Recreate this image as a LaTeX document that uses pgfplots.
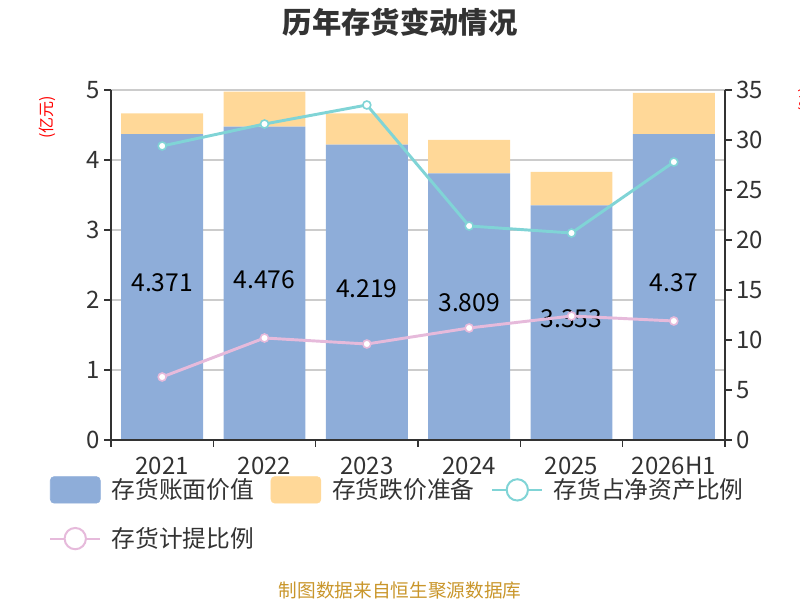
\documentclass[border=0pt]{standalone}
\usepackage{fontspec}
\setmainfont{Noto Sans CJK SC}
\usepackage{pgfplots}
\usepackage{pgfplotstable}
\pgfplotsset{compat=1.18}
\definecolor{cblue}{HTML}{8EADD9}
\definecolor{corange}{HTML}{FFD898}
\definecolor{ccyan}{HTML}{80D4D6}
\definecolor{cpink}{HTML}{E6BADB}
\definecolor{caxis}{HTML}{333333}
\definecolor{cgrid}{HTML}{CCCCCC}
\definecolor{cfoot}{HTML}{C9962B}

\pgfplotstableread{
x blue res cyan pink lbl
0 4.371 0.296 29.4 6.3 4.371
1 4.476 0.500 31.6 10.2 4.476
2 4.219 0.448 33.5 9.6 4.219
3 3.809 0.477 21.4 11.2 3.809
4 3.353 0.476 20.7 12.4 3.353
5 4.370 0.590 27.8 11.9 4.37
}\data

\pgfplotsset{
  base/.style={
    at={(83.25pt,120pt)}, anchor=south west, scale only axis,
    width=460.5pt, height=262.5pt,
    xmin=-0.5, xmax=5.5,
    /pgf/number format/assume math mode=true,
    tick label style={font=\fontsize{18}{21}\selectfont, text=caxis},
    axis line style={caxis, line width=1.2pt, -},
    tick style={caxis, line width=1.2pt},
    tick align=outside, major tick length=5pt,
  }
}

\begin{document}
\begin{tikzpicture}
\path[use as bounding box] (0,0) rectangle (600pt,450pt);

\begin{axis}[base,
  ymin=0, ymax=5,
  ybar stacked, bar width=0.8,
  axis y line*=left, axis x line*=bottom,
  xtick={0,...,5}, xticklabels={2021,2022,2023,2024,2025,2026H1},
  xtick style={draw=none},
  xticklabel style={yshift=-4pt},
  ytick={0,...,5}, ymajorgrids,
  grid style={cgrid, line width=0.8pt},
]
\addplot[fill=cblue, draw=none] table[x=x, y=blue]{\data};
\addplot[fill=corange, draw=none] table[x=x, y=res]{\data};
\end{axis}

\begin{axis}[base, hide axis, ymin=0, ymax=5]
\addplot[draw=none, mark=none, nodes near coords, point meta=explicit symbolic,
  every node near coord/.append style={anchor=center, yshift=3pt, text=black,
  font=\fontsize{18.5}{21}\selectfont}]
  table[x=x, y expr=\thisrow{blue}/2, meta=lbl]{\data};
\end{axis}

\begin{axis}[base,
  ymin=0, ymax=35, ytick={0,5,...,35},
  axis y line*=right, axis x line*=bottom,
  xtick={-0.5,0.5,...,5.5}, xticklabels={},
  legend columns=3,
  legend style={at={(-0.1075,-0.095)}, anchor=north west, draw=none, fill=none,
    font=\fontsize{17.8}{21}\selectfont, text=caxis,
    /tikz/every even column/.append style={column sep=10.5pt},
    /tikz/row sep=16pt},
]
\addlegendimage{legend image code/.code={\fill[cblue, rounded corners=3pt] (0pt,-10pt) rectangle (37.5pt,10pt); \path[draw=none, fill=none] (0pt,0pt) -- (44pt,0pt);}}
\addlegendentry{存货账面价值}
\addlegendimage{legend image code/.code={\fill[corange, rounded corners=3pt] (0pt,-10pt) rectangle (37.5pt,10pt); \path[draw=none, fill=none] (0pt,0pt) -- (44pt,0pt);}}
\addlegendentry{存货跌价准备}
\addplot[ccyan, line width=2.2pt, mark=*, mark size=3pt,
  mark options={fill=white, draw=ccyan, line width=1.2pt},
  legend image code/.code={\draw[ccyan, line width=1.5pt] (0pt,0pt) -- (37.5pt,0pt);
    \draw[ccyan, line width=1.5pt, fill=white] (18.75pt,0pt) circle (8pt); \path[draw=none, fill=none] (0pt,0pt) -- (44pt,0pt);}]
  table[x=x, y=cyan]{\data};
\addlegendentry{存货占净资产比例}
\addplot[cpink, line width=2.2pt, mark=*, mark size=3pt,
  mark options={fill=white, draw=cpink, line width=1.2pt},
  legend image code/.code={\draw[cpink, line width=1.5pt] (0pt,0pt) -- (37.5pt,0pt);
    \draw[cpink, line width=1.5pt, fill=white] (18.75pt,0pt) circle (8pt); \path[draw=none, fill=none] (0pt,0pt) -- (44pt,0pt);}]
  table[x=x, y=pink]{\data};
\addlegendentry{存货计提比例}
\end{axis}

\node[font=\fontsize{22}{26}\selectfont\bfseries, text=caxis] at (300pt,433pt) {历年存货变动情况};
\node[font=\fontsize{14}{17}\selectfont, text=cfoot] at (300pt,7.5pt) {制图数据来自恒生聚源数据库};
\node[font=\fontsize{12}{14}\selectfont, text=red, rotate=90] at (35.5pt,362pt) {(亿元)};
\node[font=\fontsize{12}{14}\selectfont, text=red, rotate=90] at (605pt,375pt) {(\%)};
\end{tikzpicture}
\end{document}
